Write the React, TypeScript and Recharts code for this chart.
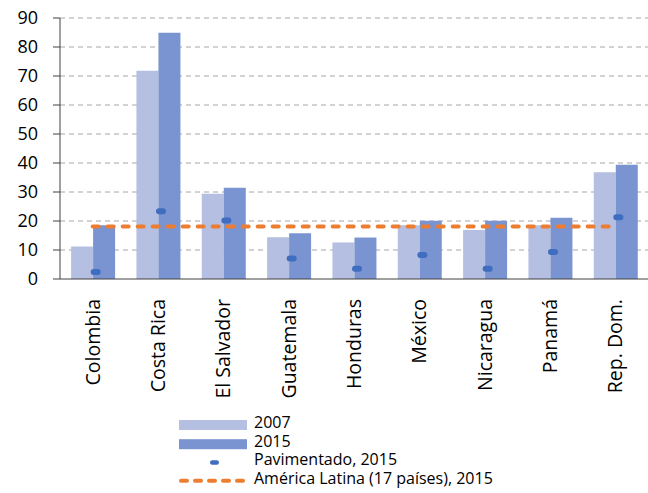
import React from 'react';
import { ComposedChart, Bar, Line, XAxis, YAxis, CartesianGrid } from 'recharts';

const countries = ['Colombia', 'Costa Rica', 'El Salvador', 'Guatemala', 'Honduras', 'México', 'Nicaragua', 'Panamá', 'Rep. Dom.'];
const values2007 = [11.2, 71.8, 29.4, 14.4, 12.6, 18.5, 16.9, 18.5, 36.8];
const values2015 = [18.5, 84.9, 31.5, 15.8, 14.3, 20.1, 20.1, 21.1, 39.4];
const paved2015 = [2.4, 23.4, 20.2, 7.1, 3.5, 8.3, 3.5, 9.3, 21.3];
const latinAmerica2015 = 18.1;
const yTicks = [0, 10, 20, 30, 40, 50, 60, 70, 80, 90];
const gridTicks = [10, 20, 30, 40, 50, 60, 70, 80, 90];
const boundaryTicks = [0, 1, 2, 3, 4, 5, 6, 7, 8, 9];

const legendLabels = ['2007', '2015', 'Pavimentado, 2015', 'América Latina (17 países), 2015'];

const C2007 = '#b4bfe1';
const C2015 = '#7a93d1';
const CPAVED = '#3f6dbf';
const CLA = '#ed7d31';
const FONT = '"Open Sans", sans-serif';

const data = countries.map((c, i) => ({
  name: c,
  v2007: values2007[i],
  v2015: values2015[i],
  paved: paved2015[i],
  la: latinAmerica2015,
}));

const XTick = (props: any) => {
  const { x, y, payload } = props;
  return (
    <text
      x={x}
      y={y}
      transform={`rotate(-90, ${x}, ${y})`}
      textAnchor="end"
      dy="0.36em"
      fontSize={19.5}
      fontFamily={FONT}
      fill="#000"
    >
      {payload.value}
    </text>
  );
};

const PavedDot = (props: any) => {
  const { cx, cy, index } = props;
  if (cx == null || cy == null) return <g key={`pd-${index}`} />;
  return <rect key={`pd-${index}`} x={cx - 2} y={cy - 3} width={10} height={6} rx={3} ry={3} fill={CPAVED} />;
};

const legendBaselines = [428, 446.7, 465.2, 483.8];

export default function App() {
  return (
    <div style={{ position: 'absolute', left: 0, top: 0, width: 648, height: 493, background: '#fff' }}>
      <ComposedChart
        width={648}
        height={493}
        data={data}
        margin={{ top: 18, right: 0, bottom: 114, left: 0 }}
        barCategoryGap="17%"
        barGap={0}
      >
        <CartesianGrid vertical={false} stroke="#a6a6a6" strokeDasharray="5 4" horizontalValues={gridTicks} yAxisId="y" xAxisId="cat" />
        <XAxis
          xAxisId="b"
          type="number"
          domain={[0, 9]}
          ticks={boundaryTicks}
          allowDataOverflow
          tick={false}
          axisLine={false}
          tickSize={7}
          tickLine={{ stroke: '#404040' }}
          height={0}
        />
        <XAxis
          xAxisId="cat"
          dataKey="name"
          interval={0}
          tickLine={false}
          axisLine={{ stroke: '#404040' }}
          tick={<XTick />}
          tickMargin={14}
          height={100}
        />
        <YAxis
          yAxisId="y"
          domain={[0, 90]}
          ticks={yTicks}
          interval={0}
          width={60}
          tickSize={7}
          tickMargin={15}
          axisLine={{ stroke: '#404040' }}
          tickLine={{ stroke: '#404040' }}
          tick={{ fontSize: 18, fontFamily: FONT, fill: '#000' }}
        />
        <Bar xAxisId="cat" yAxisId="y" dataKey="v2007" fill={C2007} isAnimationActive={false} />
        <Bar xAxisId="cat" yAxisId="y" dataKey="v2015" fill={C2015} isAnimationActive={false} />
        <Line
          xAxisId="cat"
          yAxisId="y"
          dataKey="la"
          stroke={CLA}
          strokeWidth={4}
          strokeDasharray="6 9"
          strokeLinecap="round"
          dot={false}
          activeDot={false}
          isAnimationActive={false}
        />
        <Line
          xAxisId="cat"
          yAxisId="y"
          dataKey="paved"
          stroke="none"
          dot={<PavedDot />}
          activeDot={false}
          isAnimationActive={false}
        />
      </ComposedChart>
      <svg width={648} height={493} style={{ position: 'absolute', left: 0, top: 0, pointerEvents: 'none' }}>
        <rect x={179} y={legendBaselines[0] - 8} width={68} height={10} fill={C2007} />
        <rect x={179} y={legendBaselines[1] - 7.5} width={68} height={10} fill={C2015} />
        <rect x={210} y={legendBaselines[2] - 5} width={9} height={4.5} rx={2.2} fill={CPAVED} />
        <line x1={181} y1={legendBaselines[3] - 3} x2={246} y2={legendBaselines[3] - 3} stroke={CLA} strokeWidth={4} strokeDasharray="6 8" strokeLinecap="round" />
        {legendLabels.map((label, i) => (
          <text key={label} x={254} y={legendBaselines[i]} fontSize={16} fontFamily={FONT} fill="#000">
            {label}
          </text>
        ))}
      </svg>
    </div>
  );
}
